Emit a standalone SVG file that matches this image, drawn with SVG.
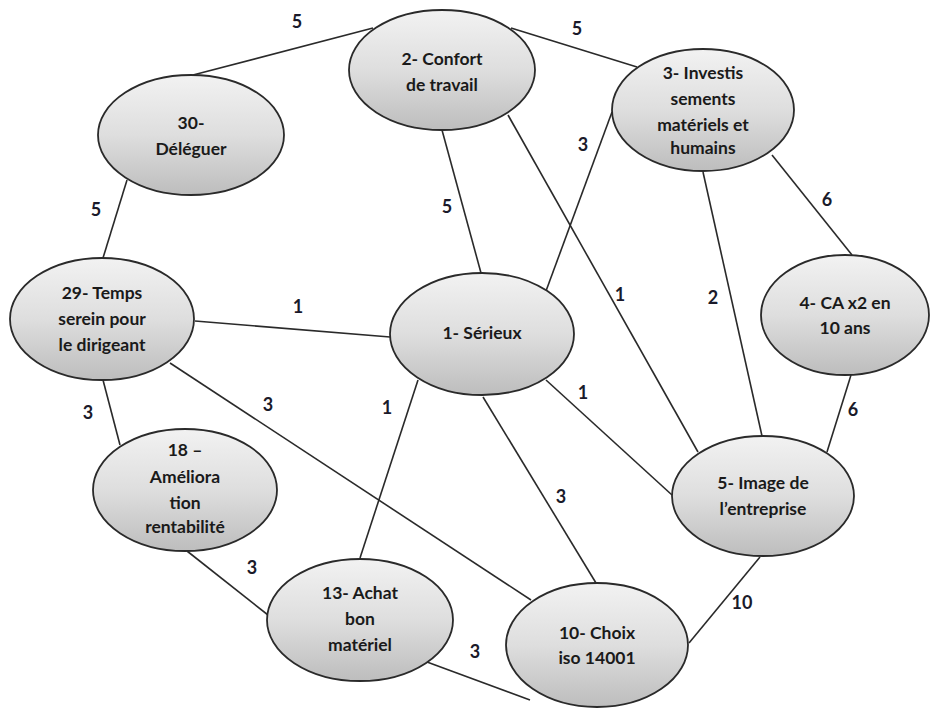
<svg xmlns="http://www.w3.org/2000/svg" width="935" height="708" viewBox="0 0 935 708">
<defs>
<linearGradient id="g" x1="0" y1="0" x2="0" y2="1">
<stop offset="0" stop-color="#f2f2f2"/>
<stop offset="0.5" stop-color="#dedede"/>
<stop offset="1" stop-color="#bdbdbd"/>
</linearGradient>
</defs>
<style>
.n ellipse{fill:url(#g);stroke:#2a2a2a;stroke-width:1.8}
.n text{font-family:Lato,"Open Sans","Liberation Sans",sans-serif;font-weight:bold;font-size:17.5px;fill:#1a1a1a;text-anchor:middle}
#edges line{stroke:#2a2a2a;stroke-width:1.6}
.lbl{font-family:Lato,"Open Sans","Liberation Sans",sans-serif;font-weight:bold;font-size:18px;fill:#1a1a2a;text-anchor:middle}
</style>
<rect width="935" height="708" fill="#fff"/>
<g id="edges">
<line x1="373" y1="28" x2="193" y2="75"/>
<line x1="511" y1="28" x2="637" y2="67"/>
<line x1="127" y1="180" x2="103" y2="258"/>
<line x1="442" y1="130" x2="481" y2="273"/>
<line x1="612" y1="112" x2="546" y2="291"/>
<line x1="508" y1="115" x2="698" y2="452"/>
<line x1="703" y1="172" x2="762" y2="436"/>
<line x1="772" y1="155" x2="852" y2="255"/>
<line x1="851" y1="375" x2="827" y2="452"/>
<line x1="195" y1="321" x2="390" y2="337"/>
<line x1="170" y1="363" x2="531" y2="600"/>
<line x1="103" y1="380" x2="120" y2="445"/>
<line x1="418" y1="380" x2="360" y2="558"/>
<line x1="483" y1="397" x2="596" y2="583"/>
<line x1="546" y1="380" x2="672" y2="495"/>
<line x1="187" y1="551" x2="268" y2="615"/>
<line x1="427" y1="662" x2="530" y2="700"/>
<line x1="760" y1="557" x2="689" y2="643"/>
<text class="lbl" x="297" y="28">5</text>
<text class="lbl" x="577" y="35">5</text>
<text class="lbl" x="96" y="216">5</text>
<text class="lbl" x="447" y="213">5</text>
<text class="lbl" x="583" y="151">3</text>
<text class="lbl" x="620" y="301">1</text>
<text class="lbl" x="713" y="304">2</text>
<text class="lbl" x="827" y="206">6</text>
<text class="lbl" x="853" y="416">6</text>
<text class="lbl" x="298" y="313">1</text>
<text class="lbl" x="268" y="411">3</text>
<text class="lbl" x="88" y="419">3</text>
<text class="lbl" x="387" y="414">1</text>
<text class="lbl" x="561" y="503">3</text>
<text class="lbl" x="583" y="399">1</text>
<text class="lbl" x="252" y="574">3</text>
<text class="lbl" x="475" y="658">3</text>
<text class="lbl" x="742" y="609">10</text>
</g>
<g id="n2" class="n"><ellipse cx="442" cy="70" rx="93" ry="60"/><text x="442" y="65">2- Confort</text><text x="442" y="91">de travail</text></g>
<g id="n30" class="n"><ellipse cx="191" cy="135" rx="93" ry="60"/><text x="191" y="129">30-</text><text x="191" y="155">Déléguer</text></g>
<g id="n3" class="n"><ellipse cx="703" cy="110" rx="91" ry="61"/><text x="703" y="79">3- Investis</text><text x="703" y="105">sements</text><text x="703" y="131">matériels et</text><text x="703" y="154">humains</text></g>
<g id="n4" class="n"><ellipse cx="845" cy="315" rx="84" ry="60"/><text x="845" y="309">4- CA x2 en</text><text x="845" y="334">10 ans</text></g>
<g id="n29" class="n"><ellipse cx="102" cy="319" rx="92" ry="61"/><text x="102" y="299">29- Temps</text><text x="102" y="325">serein pour</text><text x="102" y="351">le dirigeant</text></g>
<g id="n1" class="n"><ellipse cx="482" cy="334" rx="92" ry="61"/><text x="482" y="339">1- Sérieux</text></g>
<g id="n18" class="n"><ellipse cx="185" cy="490" rx="92" ry="61"/><text x="185" y="456">18 –</text><text x="185" y="483">Améliora</text><text x="185" y="509">tion</text><text x="185" y="533">rentabilité</text></g>
<g id="n13" class="n"><ellipse cx="360" cy="620" rx="93" ry="61"/><text x="360" y="599">13- Achat</text><text x="360" y="625">bon</text><text x="360" y="651">matériel</text></g>
<g id="n10" class="n"><ellipse cx="597" cy="645" rx="91" ry="62"/><text x="597" y="639">10- Choix</text><text x="597" y="664">iso 14001</text></g>
<g id="n5" class="n"><ellipse cx="763" cy="496" rx="91" ry="60"/><text x="763" y="489">5- Image de</text><text x="763" y="515">l’entreprise</text></g>
</svg>
